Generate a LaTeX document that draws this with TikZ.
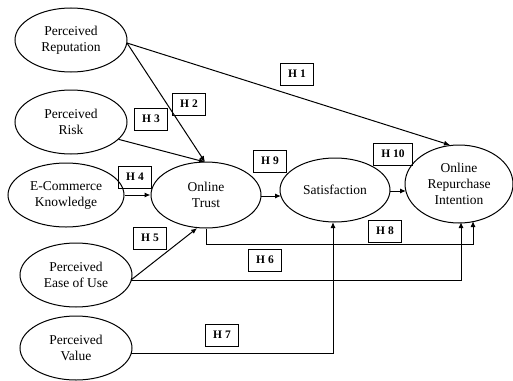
\documentclass[tikz,border=0pt]{standalone}
\usepackage{fontspec}
\setmainfont{Liberation Serif}
\usetikzlibrary{arrows.meta,shapes.geometric}
\begin{document}
\begin{tikzpicture}[x=1pt,y=-1pt,
  construct/.style={draw,line width=1pt,ellipse,minimum width=112pt,minimum height=64pt,inner sep=0pt,align=center,font=\fontsize{13.5}{16}\selectfont},
  hyp/.style={draw,line width=0.9pt,minimum width=33pt,minimum height=22pt,inner sep=0pt,font=\fontsize{11.5}{13}\selectfont\bfseries},
  link/.style={line width=1pt,-{Latex[length=6pt,width=5pt]}}]
\useasboundingbox (0,0) rectangle (513,380);
% constructs
\node[construct] (rep) at (71,40) {Perceived\\Reputation};
\node[construct] (risk) at (71,122) {Perceived\\Risk};
\node[construct,minimum width=116pt] (ecom) at (66,195) {E-Commerce\\Knowledge};
\node[construct,minimum width=110pt,minimum height=66pt] (trust) at (206,195) {Online\\Trust};
\node[construct,minimum width=110pt] (sat) at (335,190) {Satisfaction};
\node[construct,minimum width=108pt,minimum height=78pt] (ori) at (459,184) {Online\\Repurchase\\Intention};
\node[construct] (ease) at (76,275) {Perceived\\Ease of Use};
\node[construct] (val) at (76,348) {Perceived\\Value};
% coordinates
\coordinate (repout) at (127,43);
\coordinate (trtop) at (205,162);
\coordinate (oritop) at (450,145);
\coordinate (easeout) at (131,280);
\coordinate (h8a) at (206,244);
\coordinate (h8b) at (473,244);
\coordinate (h8c) at (473,221);
\coordinate (h6b) at (461,280);
\coordinate (h6c) at (461,222);
\coordinate (valout) at (131,353);
\coordinate (h7b) at (333,353);
\coordinate (h7c) at (333,222);
\coordinate (trout) at (261,196);
\coordinate (satin) at (281,196);
\coordinate (satout) at (390,191);
\coordinate (oriin) at (406,191);
% connectors
\draw[link] (repout) -- (oritop);
\draw[link] (repout) -- (trtop);
\draw[link] (risk.-20) -- (trtop);
\draw[link] (ecom.east) -- (trust.west);
\draw[link] (easeout) -- (trust.-105);
\draw[link] (easeout) -- (h6b) -- (h6c);
\draw[link] (trust.south) -- (h8a) -- (h8b) -- (h8c);
\draw[link] (valout) -- (h7b) -- (h7c);
\draw[link] (trout) -- (satin);
\draw[link] (satout) -- (oriin);
% hypothesis labels
\node[hyp] (H1) at (297,74) {H 1};
\node[hyp] (H2) at (189,104) {H 2};
\node[hyp] (H3) at (151,119) {H 3};
\node[hyp] (H4) at (135,177) {H 4};
\node[hyp] (H5) at (150,238) {H 5};
\node[hyp] (H6) at (265,260) {H 6};
\node[hyp] (H7) at (222,335) {H 7};
\node[hyp] (H8) at (385,231) {H 8};
\node[hyp] (H9) at (270,161) {H 9};
\node[hyp,minimum width=39pt] (H10) at (393,154) {H 10};
\end{tikzpicture}
\end{document}
